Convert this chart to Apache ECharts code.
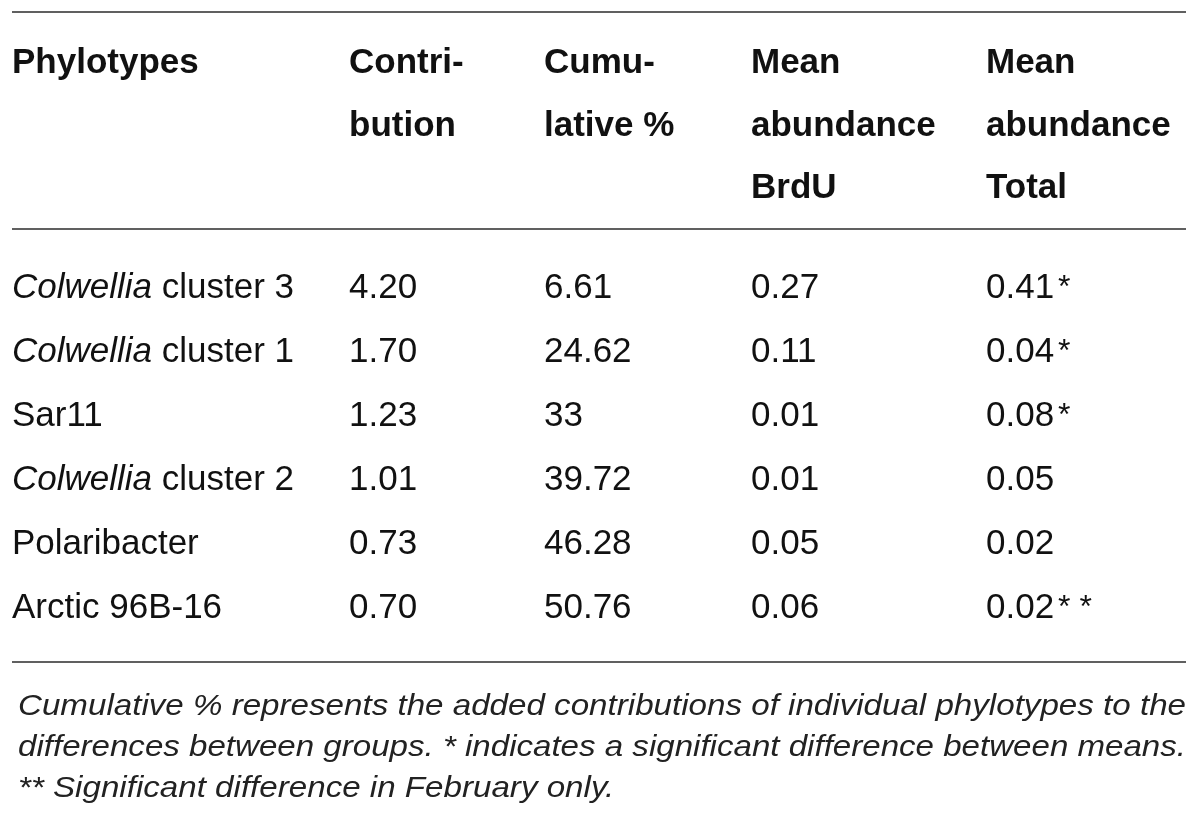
<!DOCTYPE html>
<html>
<head>
<meta charset="utf-8">
<script src="https://cdn.jsdelivr.net/npm/echarts@6/dist/echarts.min.js"></script>
<style>
html,body{margin:0;padding:0;background:#fff;}
#main{width:1200px;height:821px;}
</style>
</head>
<body>
<div id="main"></div>
<script>
// ---- data ----
var headers = [
  ['Phylotypes'],
  ['Contri-', 'bution'],
  ['Cumu-', 'lative %'],
  ['Mean', 'abundance', 'BrdU'],
  ['Mean', 'abundance', 'Total']
];
var phylotypes = ['Colwellia cluster 3', 'Colwellia cluster 1', 'Sar11', 'Colwellia cluster 2', 'Polaribacter', 'Arctic 96B-16'];
var italicGenus = ['Colwellia', 'Colwellia', '', 'Colwellia', '', ''];
var contribution = ['4.20', '1.70', '1.23', '1.01', '0.73', '0.70'];
var cumulative = ['6.61', '24.62', '33', '39.72', '46.28', '50.76'];
var meanBrdU = ['0.27', '0.11', '0.01', '0.01', '0.05', '0.06'];
var meanTotal = ['0.41', '0.04', '0.08', '0.05', '0.02', '0.02'];
var significance = ['*', '*', '*', '', '', '**'];
var footnotes = [
  'Cumulative % represents the added contributions of individual phylotypes to the',
  'differences between groups. * indicates a significant difference between means.',
  '** Significant difference in February only.'
];

// ---- layout ----
var W = 1200, H = 821;
var colX = [12, 349, 544, 751, 986];
var lineLeft = 12, lineRight = 1186;
var ruleY = [12, 229, 662];
var headerY = [63, 126, 188];
var footY = [707, 748, 789];
var footLeft = 18;
var textColor = '#111111';
var fontFam = '"Liberation Sans", Arial, Helvetica, sans-serif';
var bodySize = 35;
var footSize = 29;

var columns = [null, contribution, cumulative, meanBrdU, meanTotal];

// measure footnote width to stretch it like the justified original
var cv = document.createElement('canvas').getContext('2d');
cv.font = 'italic ' + footSize + 'px ' + fontFam;
var footScale = (lineRight - footLeft) / cv.measureText(footnotes[0]).width;
var footScale2 = (lineRight - footLeft) / cv.measureText(footnotes[1]).width;

var chart = echarts.init(document.getElementById('main'), null, {renderer: 'canvas'});

var series = [];
for (var c = 0; c < 5; c++) {
  (function (c) {
    series.push({
      type: 'scatter',
      symbolSize: 0,
      silent: true,
      itemStyle: {opacity: 1},
      data: phylotypes.map(function (p, i) { return [colX[c], i]; }),
      label: {
        show: true,
        position: 'right',
        distance: 0,
        opacity: 1,
        color: textColor,
        fontFamily: fontFam,
        fontSize: bodySize,
        formatter: function (params) {
          var i = params.dataIndex;
          if (c === 0) {
            var g = italicGenus[i];
            if (g) return '{i|' + g + '}' + phylotypes[i].slice(g.length);
            return phylotypes[i];
          }
          if (c === 4) return meanTotal[i] + (significance[i] ? '{s|' + significance[i].split('').join(' ') + '}' : '');
          return columns[c][i];
        },
        rich: {
          i: {fontStyle: 'italic', fontFamily: fontFam, fontSize: bodySize, color: textColor},
          s: {fontFamily: fontFam, fontSize: bodySize - 3, color: textColor, padding: [0, 0, 0, 4]}
        }
      }
    });
  })(c);
}

var graphics = [];
ruleY.forEach(function (y) {
  graphics.push({type: 'line', shape: {x1: lineLeft, y1: y, x2: lineRight, y2: y}, style: {stroke: '#2b2b2b', lineWidth: 1.6}, silent: true});
});
headers.forEach(function (lines, c) {
  lines.forEach(function (t, r) {
    graphics.push({type: 'text', x: colX[c], y: headerY[r], silent: true,
      style: {text: t, fill: textColor, font: 'bold ' + bodySize + 'px ' + fontFam, textVerticalAlign: 'middle', verticalAlign: 'middle', textAlign: 'left', align: 'left'}});
  });
});
footnotes.forEach(function (t, r) {
  graphics.push({type: 'text', x: footLeft, y: footY[r], silent: true,
    scaleX: r === 1 ? footScale2 : footScale,
    style: {text: t, fill: '#222222', font: 'italic ' + footSize + 'px ' + fontFam, textVerticalAlign: 'middle', verticalAlign: 'middle', textAlign: 'left', align: 'left'}});
});

chart.setOption({
  animation: false,
  backgroundColor: '#fff',
  grid: {left: 0, right: 0, top: 256, height: 384},
  xAxis: {type: 'value', min: 0, max: W, show: false},
  yAxis: {type: 'category', inverse: true, data: phylotypes, show: false, boundaryGap: true},
  series: series,
  graphic: graphics
});
</script>
</body>
</html>
